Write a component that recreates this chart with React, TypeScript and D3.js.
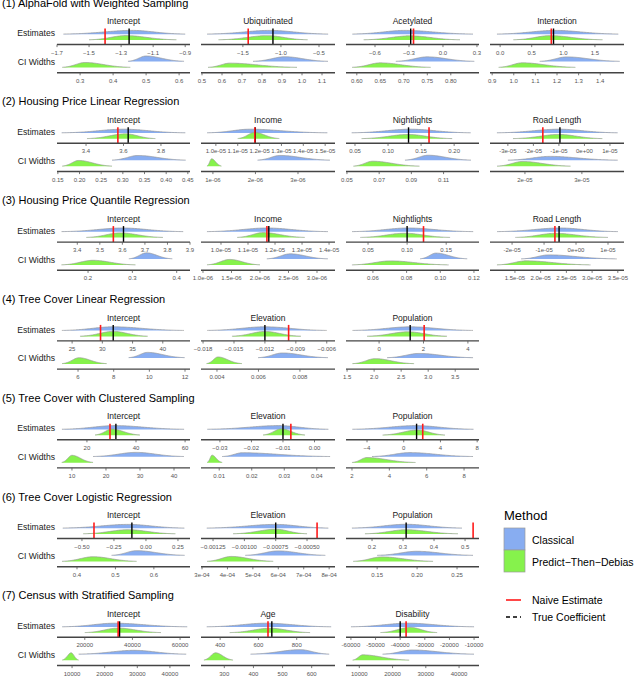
import React from "react";
import * as d3 from "d3";

// section titles and how many panels each one holds
const sectionTitles = [
  "(1) AlphaFold with Weighted Sampling",
  "(2) Housing Price Linear Regression",
  "(3) Housing Price Quantile Regression",
  "(4) Tree Cover Linear Regression",
  "(5) Tree Cover with Clustered Sampling",
  "(6) Tree Cover Logistic Regression",
  "(7) Census with Stratified Sampling",
];
const panelsPerSection = [4, 4, 4, 3, 3, 3, 3];

const panelTitles = [
  "Intercept", "Ubiquitinated", "Acetylated", "Interaction",
  "Intercept", "Income", "Nightlights", "Road Length",
  "Intercept", "Income", "Nightlights", "Road Length",
  "Intercept", "Elevation", "Population",
  "Intercept", "Elevation", "Population",
  "Intercept", "Elevation", "Population",
  "Intercept", "Age", "Disability",
];

// x range of the "Estimates" axis in each panel
const estDomain = [
  [-1.7, -0.87], [-2.05, -0.29], [-0.856, 0.318], [-0.16, 1.96],
  [3.245, 3.955], [0.932e-5, 1.545e-5], [0.0364, 0.2376], [-3.7e-5, 1.55e-5],
  [3.31, 3.9], [0.926e-5, 1.422e-5], [0.0218, 0.192], [-2.69e-5, 1.5e-5],
  [22.5, 44.5], [-0.0182, -0.0052], [-1.49, 4.5],
  [7.8, 62], [-0.036, 0.0065], [-6.29, 8.2],
  [-0.695, 0.344], [-0.001346, -0.000277], [0.116, 0.545],
  [8333, 64167], [300, 1000], [-62000, -8000],
];

const estTicks = [
  ["−1.7", "−1.5", "−1.3", "−1.1", "−0.9"], ["−1.5", "−1.0", "−0.5"], ["−0.6", "−0.3", "0.0", "0.3"], ["0.0", "0.5", "1.0", "1.5"],
  ["3.4", "3.6", "3.8"], ["1.0e-05", "1.1e-05", "1.2e-05", "1.3e-05", "1.4e-05", "1.5e-05"], ["0.05", "0.10", "0.15", "0.20"], ["-3e-05", "-2e-05", "-1e-05", "0e+00", "1e-05"],
  ["3.4", "3.5", "3.6", "3.7", "3.8", "3.9"], ["1.0e-05", "1.1e-05", "1.2e-05", "1.3e-05", "1.4e-05"], ["0.05", "0.10", "0.15"], ["-2e-05", "-1e-05", "0e+00", "1e-05"],
  ["25", "30", "35", "40"], ["−0.018", "−0.015", "−0.012", "−0.009", "−0.006"], ["0", "2", "4"],
  ["20", "40", "60"], ["−0.03", "−0.02", "−0.01", "0.00"], ["−4", "0", "4", "8"],
  ["−0.50", "−0.25", "0.00", "0.25"], ["−0.00125", "−0.00100", "−0.00075", "−0.00050"], ["0.2", "0.3", "0.4", "0.5"],
  ["20000", "40000", "60000"], ["400", "600", "800"], ["-60000", "-50000", "-40000", "-30000", "-20000", "-10000"],
];

// x range of the "CI Widths" axis in each panel
const ciDomain = [
  [0.23, 0.633], [0.495, 1.165], [0.577, 0.86], [0.89, 1.51],
  [0.148, 0.455], [0.72e-6, 3.87e-6], [0.0494, 0.132], [1.386e-5, 3.74e-5],
  [0.13, 0.43], [0.965e-6, 3.316e-6], [0.044, 0.123], [1.015e-5, 3.62e-5],
  [4.82, 12.28], [0.00323, 0.00969], [1.48, 3.94],
  [5.6, 44.7], [0.0044, 0.0456], [1.68, 8.8],
  [0.348, 0.694], [2.96e-4, 8.23e-4], [0.111, 0.2775],
  [5385, 46150], [220, 680], [6000, 46000],
];

const ciTicks = [
  ["0.3", "0.4", "0.5", "0.6"], ["0.5", "0.6", "0.7", "0.8", "0.9", "1.0", "1.1"], ["0.60", "0.65", "0.70", "0.75", "0.80"], ["0.9", "1.0", "1.1", "1.2", "1.3", "1.4"],
  ["0.15", "0.20", "0.25", "0.30", "0.35", "0.40", "0.45"], ["1e-06", "2e-06", "3e-06"], ["0.05", "0.07", "0.09", "0.11"], ["2e-05", "3e-05"],
  ["0.2", "0.3", "0.4"], ["1.0e-06", "1.5e-06", "2.0e-06", "2.5e-06", "3.0e-06"], ["0.06", "0.08", "0.10", "0.12"], ["1.5e-05", "2.0e-05", "2.5e-05", "3.0e-05", "3.5e-05"],
  ["6", "8", "10", "12"], ["0.004", "0.006", "0.008"], ["1.5", "2.0", "2.5", "3.0", "3.5"],
  ["10", "20", "30", "40"], ["0.01", "0.02", "0.03", "0.04"], ["2", "4", "6", "8"],
  ["0.4", "0.5", "0.6"], ["3e-04", "4e-04", "5e-04", "6e-04", "7e-04", "8e-04"], ["0.15", "0.20", "0.25"],
  ["10000", "20000", "30000", "40000"], ["300", "400", "500", "600"], ["10000", "20000", "30000", "40000"],
];

// ridges as [low end, peak, high end]
const classicalEst = [
  [-1.66, -1.23, -0.9], [-1.97, -1.145, -0.38], [-0.8, -0.335, 0.265], [-0.05, 0.87, 1.87],
  [3.27, 3.6, 3.93], [0.96e-5, 1.155e-5, 1.51e-5], [0.045, 0.134, 0.225], [-3.43e-5, -1.0e-5, 1.3e-5],
  [3.33, 3.6, 3.87], [0.948e-5, 1.17e-5, 1.396e-5], [0.0295, 0.101, 0.1846], [-2.47e-5, -0.5e-5, 1.31e-5],
  [23.3, 31.8, 43.5], [-0.0176, -0.012, -0.006], [-1.2, 1.4, 4.23],
  [9.8, 31.4, 59.6], [-0.034, -0.0114, 0.0044], [-5.6, 1.3, 7.6],
  [-0.65, -0.14, 0.3], [-0.0013, -0.00075, -0.00033], [0.135, 0.31, 0.49],
  [10500, 32500, 63000], [330, 640, 980], [-60000, -37000, -10000],
];

const ptdEst = [
  [-1.5, -1.27, -0.955], [-1.82, -1.18, -0.65], [-0.7, -0.29, 0.15], [0.21, 0.79, 1.62],
  [3.405, 3.61, 3.77], [1.1e-5, 1.177e-5, 1.29e-5], [0.06, 0.13, 0.197], [-2.8e-5, -1.0e-5, 0.7e-5],
  [3.44, 3.59, 3.78], [1.06e-5, 1.156e-5, 1.31e-5], [0.04, 0.097, 0.155], [-1.9e-5, -0.66e-5, 1.0e-5],
  [26.3, 31.8, 37.5], [-0.0152, -0.012, -0.0085], [-0.54, 1.3, 3.06],
  [23.3, 30.2, 41.6], [-0.0163, -0.0105, -0.003], [-2.3, 1.5, 4.5],
  [-0.49, -0.14, 0.23], [-0.00109, -0.00075, -0.0005], [0.177, 0.31, 0.477],
  [20000, 34000, 52000], [450, 660, 870], [-48000, -36000, -25000],
];

const classicalCI = [
  [0.445, 0.5, 0.615], [0.755, 0.915, 1.13], [0.683, 0.75, 0.85], [1.12, 1.245, 1.49],
  [0.275, 0.335, 0.445], [2.05e-6, 2.58e-6, 3.75e-6], [0.086, 0.1005, 0.127], [1.7e-5, 2.44e-5, 3.63e-5],
  [0.292, 0.332, 0.39], [2.12e-6, 2.53e-6, 3.19e-6], [0.088, 0.0975, 0.116], [1.62e-5, 2.16e-5, 3.48e-5],
  [8.84, 9.9, 11.98], [0.00598, 0.00716, 0.00935], [2.24, 2.83, 3.83],
  [16.2, 28.8, 42.9], [0.0109, 0.0172, 0.0441], [3.07, 5.1, 8.48],
  [0.49, 0.555, 0.68], [4.7e-4, 6.0e-4, 7.85e-4], [0.15, 0.1995, 0.27],
  [12000, 29000, 45000], [390, 560, 660], [17000, 26000, 44500],
];

const ptdCI = [
  [0.246, 0.315, 0.452], [0.53, 0.64, 0.975], [0.59, 0.65, 0.757], [0.93, 1.04, 1.285],
  [0.16, 0.198, 0.275], [0.86e-6, 0.97e-6, 1.2e-6], [0.054, 0.066, 0.095], [1.51e-5, 1.96e-5, 2.8e-5],
  [0.14, 0.211, 0.307], [1.07e-6, 1.47e-6, 2.0e-6], [0.0475, 0.0705, 0.105], [1.15e-5, 1.72e-5, 2.97e-5],
  [5.1, 6.06, 7.6], [0.0035, 0.00405, 0.0052], [1.6, 2.02, 2.74],
  [7, 10, 16.2], [0.0063, 0.0078, 0.0109], [2.0, 2.8, 5.4],
  [0.361, 0.442, 0.555], [3.2e-4, 4.15e-4, 5.8e-4], [0.12, 0.156, 0.22],
  [7000, 9700, 12000], [230, 270, 330], [8000, 11000, 25000],
];

const naiveEstimate = [
  -1.4, -1.43, -0.26, 0.81,
  3.57, 1.178e-5, 0.162, -1.63e-5,
  3.56, 1.17e-5, 0.121, -0.66e-5,
  29.7, -0.0097, 2.03,
  29.4, -0.0075, 2.07,
  -0.406, -0.00042, 0.526,
  34000, 650, -37600,
];

const trueCoef = [
  -1.25, -1.105, -0.285, 0.845,
  3.625, 1.18e-5, 0.131, -0.96e-5,
  3.605, 1.177e-5, 0.1, -0.53e-5,
  31.8, -0.012, 1.4,
  31.8, -0.01, 1.4,
  -0.11, -0.00075, 0.31,
  34600, 670, -40000,
];

const legendMethods = ["Classical", "Predict−Then−Debias"];
const legendLines = ["Naive Estimate", "True Coefficient"];

const W = 640;
const H = 676;
const FONT = "'Liberation Sans', Arial, Helvetica, sans-serif";
const BLUE = "#88adf1";
const GREEN = "#86f24c";
const colStart = [57, 201, 346, 490];
const colEnd = [190, 335, 479, 624];
const sectionStep = 98.8;
const firstTitleY = 2.5;

const num = (s: string) => +s.replace(/−/g, "-");

function Ridge({ x, r, base, fill }: { x: d3.ScaleLinear<number, number>; r: number[]; base: number; fill: string }) {
  const [a, m, b] = r;
  const w = x(b) - x(a);
  const h = Math.min(7.5, Math.max(3.8, 4.6 * Math.sqrt(80 / w)));
  const pts: [number, number][] = d3.range(81).map((i) => {
    const v = a + ((b - a) * i) / 80;
    const s = (v < m ? m - a : b - m) / 2.5;
    const z = (v - m) / s;
    return [x(v), base - h * Math.exp(-0.5 * z * z)];
  });
  const area = d3.area<[number, number]>().x((d) => d[0]).y0(base).y1((d) => d[1]).curve(d3.curveMonotoneX);
  const line = d3.line<[number, number]>().x((d) => d[0]).y((d) => d[1]).curve(d3.curveMonotoneX);
  return (
    <g>
      <path d={area(pts) || ""} fill={fill} />
      <path d={line(pts) || ""} fill="none" stroke="#9a9a9a" strokeWidth={0.7} />
    </g>
  );
}

function Axis({ x, ticks, y }: { x: d3.ScaleLinear<number, number>; ticks: string[]; y: number }) {
  const [r0, r1] = x.range();
  return (
    <g>
      <line x1={r0} x2={r1} y1={y} y2={y} stroke="#444" strokeWidth={1.4} />
      {ticks.map((t, i) => (
        <g key={i}>
          <line x1={x(num(t))} x2={x(num(t))} y1={y} y2={y + 2.6} stroke="#555" strokeWidth={0.8} />
          <text x={x(num(t))} y={y + 8} fontSize={6} fill="#555" textAnchor="middle" dominantBaseline="central">{t}</text>
        </g>
      ))}
    </g>
  );
}

function Panel({ idx, col, top }: { idx: number; col: number; top: number }) {
  const x0 = colStart[col];
  const x1 = colEnd[col];
  const xe = d3.scaleLinear().domain(estDomain[idx]).range([x0, x1]);
  const xc = d3.scaleLinear().domain(ciDomain[idx]).range([x0, x1]);
  const estAxisY = top + 42;
  const ciAxisY = top + 70.2;
  return (
    <g>
      <text x={(x0 + x1) / 2} y={top + 18.7} fontSize={8.5} fill="#1a1a1a" textAnchor="middle" dominantBaseline="central">
        {panelTitles[idx]}
      </text>
      <Ridge x={xe} r={classicalEst[idx]} base={top + 31.7} fill={BLUE} />
      <Ridge x={xe} r={ptdEst[idx]} base={top + 37.5} fill={GREEN} />
      <line x1={xe(trueCoef[idx])} x2={xe(trueCoef[idx])} y1={top + 26} y2={estAxisY} stroke="#000" strokeWidth={1.4} />
      <line x1={xe(naiveEstimate[idx])} x2={xe(naiveEstimate[idx])} y1={top + 26} y2={estAxisY} stroke="#ff1a1a" strokeWidth={1.6} />
      <Axis x={xe} ticks={estTicks[idx]} y={estAxisY} />
      <Ridge x={xc} r={classicalCI[idx]} base={top + 59} fill={BLUE} />
      <Ridge x={xc} r={ptdCI[idx]} base={top + 65} fill={GREEN} />
      <Axis x={xc} ticks={ciTicks[idx]} y={ciAxisY} />
    </g>
  );
}

export default function App() {
  let idx = 0;
  const sections = sectionTitles.map((title, s) => {
    const top = firstTitleY + s * sectionStep;
    const panels = d3.range(panelsPerSection[s]).map((c) => {
      const p = <Panel key={c} idx={idx} col={c} top={top} />;
      idx += 1;
      return p;
    });
    return (
      <g key={s}>
        <text x={2} y={top} fontSize={11} fill="#000" dominantBaseline="central">{title}</text>
        <text x={55} y={top + 30.6} fontSize={8.6} fill="#1a1a1a" textAnchor="end" dominantBaseline="central">Estimates</text>
        <text x={55} y={top + 59.5} fontSize={8.6} fill="#1a1a1a" textAnchor="end" dominantBaseline="central">CI Widths</text>
        {panels}
      </g>
    );
  });

  return (
    <svg width={W} height={H} style={{ position: "absolute", left: 0, top: 0, background: "#fff" }} fontFamily={FONT}>
      {sections}
      <g>
        <text x={504} y={515} fontSize={13} fill="#000" dominantBaseline="central">Method</text>
        {legendMethods.map((m, i) => (
          <g key={m}>
            <rect x={504} y={528 + i * 22} width={21} height={22} fill={i === 0 ? BLUE : GREEN} stroke="#9a9a9a" strokeWidth={0.7} />
            <text x={532} y={540 + i * 22} fontSize={10.5} fill="#000" dominantBaseline="central">{m}</text>
          </g>
        ))}
        {legendLines.map((m, i) => (
          <g key={m}>
            <line x1={506} x2={521} y1={600 + i * 17} y2={600 + i * 17} stroke={i === 0 ? "#ff1a1a" : "#000"} strokeWidth={1.6} strokeDasharray={i === 0 ? undefined : "4,3"} />
            <text x={532} y={600 + i * 17} fontSize={10.5} fill="#000" dominantBaseline="central">{m}</text>
          </g>
        ))}
      </g>
    </svg>
  );
}
